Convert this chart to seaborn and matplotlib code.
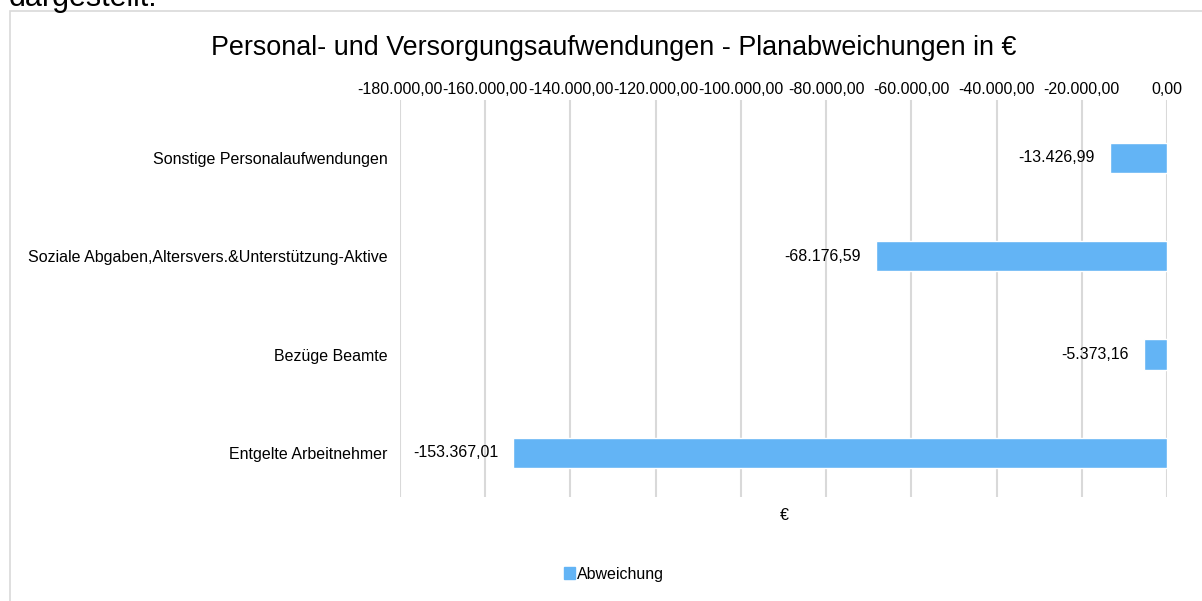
import matplotlib
matplotlib.use('Agg')
import matplotlib.pyplot as plt
from matplotlib.patches import Rectangle
import seaborn as sns
import pandas as pd

# Chart data
categories = ['Sonstige Personalaufwendungen',
              'Soziale Abgaben,Altersvers.&Unterstützung-Aktive',
              'Bezüge Beamte',
              'Entgelte Arbeitnehmer']
abweichung = [-13426.99, -68176.59, -5373.16, -153367.01]
x_ticks = [-180000, -160000, -140000, -120000, -100000, -80000, -60000, -40000, -20000, 0]

bar_color = '#63b4f5'
grid_color = '#d9d9d9'

sns.set_style('white')
plt.rcParams['font.family'] = ['Liberation Sans', 'DejaVu Sans']
plt.rcParams['text.color'] = 'black'


def de_format(v):
    # German number format: 1.234,56
    s = f'{v:,.2f}'
    return s.replace(',', 'X').replace('.', ',').replace('X', '.')


df = pd.DataFrame({'Kategorie': categories, 'Abweichung': abweichung})

fig = plt.figure(figsize=(12.02, 6.01), dpi=100)
ax = fig.add_axes([400 / 1202, 1 - 497 / 601, 767 / 1202, 397 / 601])

sns.barplot(data=df, x='Abweichung', y='Kategorie', color=bar_color,
            width=0.31, saturation=1, ax=ax, orient='h')

ax.set_xlim(-180000, 0)
ax.set_ylim(3.45, -0.59)
ax.set_xticks(x_ticks)
ax.set_xticklabels([de_format(t) for t in x_ticks])
ax.xaxis.tick_top()
ax.tick_params(axis='x', length=0, pad=2, labelsize=11.5, colors='black')
ax.tick_params(axis='y', length=0, pad=9, labelsize=11.5, colors='black')
ax.set_xlabel('')
ax.set_ylabel('')
ax.grid(axis='x', color=grid_color, linewidth=1.5)
ax.set_axisbelow(True)
for s in ax.spines.values():
    s.set_visible(False)

# data labels
ax.bar_label(ax.containers[0], labels=[de_format(v) for v in abweichung],
             padding=11, fontsize=11.5, color='black')

# titles and axis label
fig.text(614 / 1202, 1 - 48 / 601, 'Personal- und Versorgungsaufwendungen - Planabweichungen in €',
         ha='center', va='center', fontsize=19.4)
fig.text(784 / 1202, 1 - 515 / 601, '€', ha='center', va='center', fontsize=11.5)

# legend
handle = Rectangle((0, 0), 1, 1, color=bar_color)
fig.legend([handle], ['Abweichung'], loc='center', bbox_to_anchor=(614 / 1202, 1 - 574 / 601),
           frameon=False, fontsize=11.5, handlelength=0.7, handleheight=0.7, handletextpad=0.15)

# chart border and cut-off document text above it
fig.patches.append(Rectangle((10 / 1202, -0.05), 1.2, 1 - 11 / 601 + 0.05, transform=fig.transFigure,
                             fill=False, edgecolor=grid_color, linewidth=1.2))
fig.text(9 / 1202, 1 - 6 / 601, 'dargestellt.', ha='left', va='baseline', fontsize=22)

fig.savefig('out.png', dpi=100, facecolor='white')
